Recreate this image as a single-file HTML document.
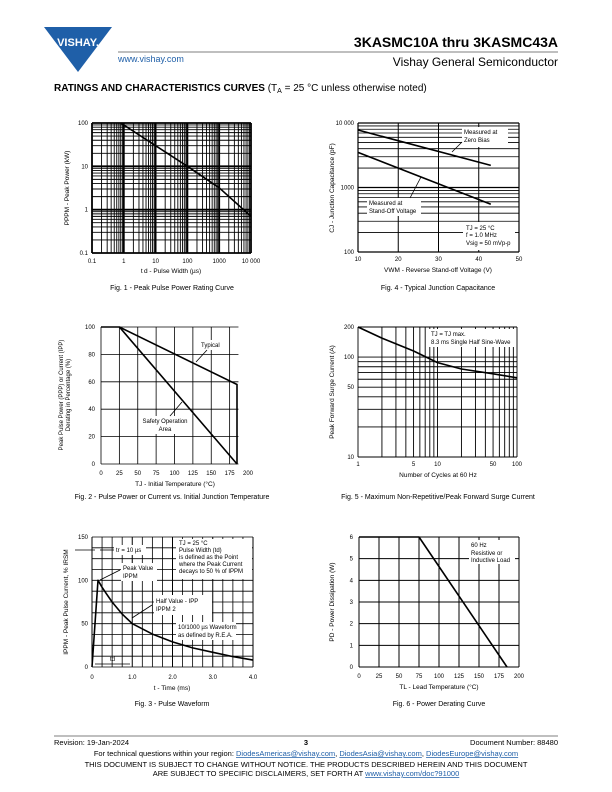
<!DOCTYPE html>
<html><head><meta charset="utf-8"><style>
body{margin:0;background:#fff}
svg{display:block;font-family:"Liberation Sans",Arial,sans-serif}
</style></head><body>
<svg id="pg" width="612" height="792" viewBox="0 0 612 792" xmlns="http://www.w3.org/2000/svg">
<g>
 <polygon points="44,27 112,27 78,72" fill="#1f5fa8"/>
 <text x="78" y="46" font-size="11" font-weight="bold" fill="#fff" text-anchor="middle">VISHAY.</text>
 <text x="118" y="62" font-size="9" fill="#1f5fa8">www.vishay.com</text>
 <text x="558" y="47" font-size="14" font-weight="bold" text-anchor="end">3KASMC10A thru 3KASMC43A</text>
 <text x="558" y="66" font-size="12" text-anchor="end">Vishay General Semiconductor</text>
 <line x1="118" y1="52" x2="558" y2="52" stroke="#000" stroke-width="0.6"/>
 <text x="54" y="91" font-size="10"><tspan font-weight="bold">RATINGS AND CHARACTERISTICS CURVES</tspan> (T<tspan font-size="7" dy="2">A</tspan><tspan dy="-2"> = 25 °C unless otherwise noted)</tspan></text>
</g>
<g id="charts"></g>
<g font-size="7.5">
 <line x1="54" y1="736" x2="558" y2="736" stroke="#000" stroke-width="0.6"/>
 <text x="54" y="745">Revision: 19-Jan-2024</text>
 <text x="306" y="745" text-anchor="middle" font-weight="bold">3</text>
 <text x="558" y="745" text-anchor="end">Document Number: 88480</text>
 <text x="306" y="756" text-anchor="middle">For technical questions within your region: <tspan fill="#1f5fa8" text-decoration="underline">DiodesAmericas@vishay.com</tspan>, <tspan fill="#1f5fa8" text-decoration="underline">DiodesAsia@vishay.com</tspan>, <tspan fill="#1f5fa8" text-decoration="underline">DiodesEurope@vishay.com</tspan></text>
 <text x="306" y="767" text-anchor="middle">THIS DOCUMENT IS SUBJECT TO CHANGE WITHOUT NOTICE. THE PRODUCTS DESCRIBED HEREIN AND THIS DOCUMENT</text>
 <text x="306" y="776" text-anchor="middle">ARE SUBJECT TO SPECIFIC DISCLAIMERS, SET FORTH AT <tspan fill="#1f5fa8" text-decoration="underline">www.vishay.com/doc?91000</tspan></text>
</g>
</svg>
<script>
// ---- data ----
const f1X=[0.8,10,100,1000,10000];
const f1Y=[100,30,10,3.2,0.7];
const f4V=[10,43];
const f4Zero=[7800,2200];
const f4Stand=[3500,550];
const f2Typ=[[0,100],[25,100],[185,58],[185,0]];
const f2SoaT=[25,185];
const f2SoaV=[100,0];
const f3T=[0,0.15,0.25,0.35,0.5,0.75,1,1.5,2,2.5,3,3.5,4];
const f3I=[0,100,92,85,75,61,50,38,29,22,17,12,8];
const f5N=[1,2,5,10,20,50,100];
const f5I=[200,155,115,88,76,68,62];
const f6T=[0,75,185];
const f6P=[6,6,0];
const f1XTicks=["0.1","1","10","100","1000","10 000"];
const f1YTicks=["0.1","1","10","100"];

const NS="http://www.w3.org/2000/svg";
const root=document.getElementById('charts');
function mk(tag,a,p){const e=document.createElementNS(NS,tag);for(const k in a)e.setAttribute(k,a[k]);(p||root).appendChild(e);return e;}
function txt(x,y,s,a,p){const e=mk('text',Object.assign({x:x,y:y,'font-size':6},a||{}),p);e.textContent=s;return e;}
function lin(lo,hi,a,b){return v=>a+(v-lo)/(hi-lo)*(b-a);}
function lg(lo,hi,a,b){return v=>a+(Math.log10(v)-Math.log10(lo))/(Math.log10(hi)-Math.log10(lo))*(b-a);}
function line(g,x1,y1,x2,y2,w){return mk('line',{x1:x1,y1:y1,x2:x2,y2:y2,stroke:'#000','stroke-width':w||0.8},g);}
function path(g,pts,w,name){const e=mk('polyline',{points:pts.map(p=>p[0].toFixed(1)+','+p[1].toFixed(1)).join(' '),fill:'none',stroke:'#000','stroke-width':w||1.6,'stroke-linejoin':'round'},g);

return e;}
function group(name){const g=mk('g',{});

return g;}
function logMinors(lo,hi){const r=[];for(let d=lo;d<hi;d*=10)for(let k=1;k<10;k++){const v=d*k;if(v<=hi)r.push(v);}r.push(hi);return r;}
function rotTitle(g,x,y,s,fs){const t=txt(x,y,s,{'font-size':fs||6.5,'text-anchor':'middle',transform:'rotate(-90 '+x+' '+y+')'},g);return t;}
function caption(g,x,y,s){const t=txt(x,y,s,{'font-size':7,'text-anchor':'middle'},g);

}

// ---- Fig 1 ----
(function(){const g=group('fig1-peak-pulse-power');
const X=lg(0.1,10000,92,251),Y=lg(0.1,100,253,123);
logMinors(0.1,10000).forEach(v=>line(g,X(v),123,X(v),253,Number.isInteger(Math.log10(v))?1.8:0.9));
logMinors(0.1,100).forEach(v=>line(g,92,Y(v),251,Y(v),Number.isInteger(Math.log10(v))?1.8:0.9));
[0.1,1,10,100,1000,10000].forEach((v,i)=>txt(X(v),263,f1XTicks[i],{'text-anchor':'middle'},g));
[0.1,1,10,100].forEach((v,i)=>txt(88,Y(v)+2,f1YTicks[i],{'text-anchor':'end'},g));
path(g,f1X.map((x,i)=>[X(x),Y(f1Y[i])]),1.6,'peak-power-curve');
txt(171,273,'t\u2009d - Pulse Width (µs)',{'font-size':6.5,'text-anchor':'middle'},g);
rotTitle(g,69,188,'PPPM - Peak Power (kW)');
caption(g,172,290,'Fig. 1 - Peak Pulse Power Rating Curve');})();

// ---- Fig 4 ----
(function(){const g=group('fig4-junction-capacitance');
const X=lin(10,50,358,519),Y=lg(100,10000,252,123);
logMinors(100,10000).forEach(v=>line(g,358,Y(v),519,Y(v),Number.isInteger(Math.log10(v))?1.2:0.8));
[10,20,30,40,50].forEach(v=>{line(g,X(v),123,X(v),252,1);txt(X(v),261,String(v),{'text-anchor':'middle'},g);});
line(g,358,123,358,252,1.2);line(g,519,123,519,252,1.2);
[[100,'100'],[1000,'1000'],[10000,'10 000']].forEach(a=>txt(354,Y(a[0])+2,a[1],{'text-anchor':'end'},g));
path(g,f4V.map((v,i)=>[X(v),Y(f4Zero[i])]),1.6,'zero-bias-curve');
path(g,f4V.map((v,i)=>[X(v),Y(f4Stand[i])]),1.6,'standoff-voltage-curve');
mk('rect',{x:462,y:127,width:46,height:20,fill:'#fff'},g);
txt(464,134,'Measured at',{},g);txt(464,142,'Zero Bias',{},g);
line(g,462,142,452,152,0.8);
mk('rect',{x:367,y:198,width:54,height:18,fill:'#fff'},g);
txt(369,205,'Measured at',{},g);txt(369,213,'Stand-Off Voltage',{},g);
line(g,410,198,421,177,0.8);
mk('rect',{x:463,y:222,width:52,height:28,fill:'#fff'},g);
txt(466,230,'TJ = 25 °C',{},g);txt(466,237,'f = 1.0 MHz',{},g);txt(466,245,'Vsig = 50 mVp-p',{},g);
txt(438,272,'VWM - Reverse Stand-off Voltage (V)',{'font-size':6.5,'text-anchor':'middle'},g);
rotTitle(g,334,188,'CJ - Junction Capacitance (pF)');
caption(g,438,290,'Fig. 4 - Typical Junction Capacitance');})();

// ---- Fig 2 ----
(function(){const g=group('fig2-derating');
const X=lin(0,200,101,248),Y=lin(0,100,464,327);
for(let v=0;v<=200;v+=25){if(v>0&&v<200)line(g,X(v),327,X(v),464,0.8);txt(X(v),475,String(v),{'text-anchor':'middle'},g);}
for(let v=0;v<=100;v+=20){line(g,X(0),Y(v),X(187),Y(v),0.8);txt(95,Y(v)+2,String(v),{'text-anchor':'end'},g);}
line(g,X(0),327,X(0),464,0.8);
path(g,f2Typ.map(p=>[X(p[0]),Y(p[1])]),1.6,'typical-curve');
path(g,f2SoaT.map((t,i)=>[X(t),Y(f2SoaV[i])]),1.6,'safe-operating-area-curve');
mk('rect',{x:198,y:340,width:26,height:10,fill:'#fff'},g);
txt(201,347,'Typical',{},g);line(g,207,350,196,362,0.8);
mk('rect',{x:140,y:416,width:50,height:18,fill:'#fff'},g);
txt(165,423,'Safety Operation',{'text-anchor':'middle'},g);txt(165,431,'Area',{'text-anchor':'middle'},g);
line(g,170,416,182,402,0.8);
txt(175,486,'TJ - Initial Temperature (°C)',{'font-size':6.5,'text-anchor':'middle'},g);
rotTitle(g,63,395,'Peak Pulse Power (PPP) or Current (IPP)',6);
rotTitle(g,70,395,'Derating in Percentage (%)',6);
caption(g,172,499,'Fig. 2 - Pulse Power or Current vs. Initial Junction Temperature');})();

// ---- Fig 5 ----
(function(){const g=group('fig5-surge-current');
const X=lg(1,100,358,517),Y=lg(10,200,457,327);
logMinors(1,100).forEach(v=>line(g,X(v),327,X(v),457,0.9));
[10,20,30,40,50,60,70,80,90,100,200].forEach(v=>line(g,358,Y(v),517,Y(v),0.9));
[1,5,10,50,100].forEach(v=>txt(X(v),466,String(v),{'text-anchor':'middle'},g));
[10,50,100,200].forEach(v=>txt(354,Y(v)+2,String(v),{'text-anchor':'end'},g));
path(g,f5N.map((n,i)=>[X(n),Y(f5I[i])]),1.6,'surge-current-curve');
mk('rect',{x:429,y:329,width:86,height:18,fill:'#fff'},g);
txt(431,336,'TJ = TJ max.',{},g);txt(431,344,'8.3 ms Single Half Sine-Wave',{},g);
txt(438,477,'Number of Cycles at 60 Hz',{'font-size':6.5,'text-anchor':'middle'},g);
rotTitle(g,334,392,'Peak Forward Surge Current (A)');
caption(g,438,499,'Fig. 5 - Maximum Non-Repetitive/Peak Forward Surge Current');})();

// ---- Fig 3 ----
(function(){const g=group('fig3-pulse-waveform');
const X=lin(0,4,92,253),Y=lin(0,150,667,537);
for(let v=0;v<=4;v+=0.25)line(g,X(v),537,X(v),667,v%1===0?1:0.8);
for(let v=0;v<=150;v+=12.5)line(g,92,Y(v),253,Y(v),0.8);
['0','1.0','2.0','3.0','4.0'].forEach((s,i)=>txt(X(i),679,s,{'text-anchor':'middle'},g));
[0,50,100,150].forEach(v=>txt(88,Y(v)+2,String(v),{'text-anchor':'end'},g));
path(g,f3T.map((t,i)=>[X(t),Y(f3I[i])]),1.6,'pulse-waveform-curve');
mk('rect',{x:176,y:539,width:76,height:40,fill:'#fff'},g);
['TJ = 25 °C','Pulse Width (td)','is defined as the Point','where the Peak Current','decays to 50 % of IPPM'].forEach((s,i)=>txt(179,545+i*7,s,{},g));
mk('rect',{x:114,y:545,width:32,height:10,fill:'#fff'},g);txt(116,552,'tr = 10 µs',{},g);
line(g,75,550,95,550,0.8);line(g,100,550,114,550,0.8);
mk('rect',{x:121,y:563,width:36,height:18,fill:'#fff'},g);txt(123,570,'Peak Value',{},g);txt(123,578,'IPPM',{},g);
line(g,120,570,100,580,0.8);
mk('rect',{x:154,y:595,width:58,height:20,fill:'#fff'},g);txt(156,603,'Half Value -  IPP',{},g);txt(156,611,'IPPM           2',{},g);
line(g,152,605,132,618,0.8);
mk('rect',{x:176,y:622,width:60,height:18,fill:'#fff'},g);txt(178,629,'10/1000 µs Waveform',{},g);txt(178,637,'as defined by R.E.A.',{},g);
line(g,95,664,130,664,0.8);txt(110,661,'td',{},g);
txt(172,690,'t - Time (ms)',{'font-size':6.5,'text-anchor':'middle'},g);
rotTitle(g,68,602,'IPPM - Peak Pulse Current, % IRSM');
caption(g,172,706,'Fig. 3 - Pulse Waveform');})();

// ---- Fig 6 ----
(function(){const g=group('fig6-power-derating');
const X=lin(0,200,359,519),Y=lin(0,6,667,537);
for(let v=0;v<=200;v+=25){line(g,X(v),537,X(v),667,1);txt(X(v),678,String(v),{'text-anchor':'middle'},g);}
for(let v=0;v<=6;v++){line(g,359,Y(v),519,Y(v),1);txt(353,Y(v)+2,String(v),{'text-anchor':'end'},g);}
path(g,f6T.map((t,i)=>[X(t),Y(f6P[i])]),1.6,'power-derating-curve');
mk('rect',{x:469,y:540,width:46,height:24,fill:'#fff'},g);
txt(471,547,'60 Hz',{},g);txt(471,555,'Resistive or',{},g);txt(471,562,'Inductive Load',{},g);
txt(439,689,'TL - Lead Temperature (°C)',{'font-size':6.5,'text-anchor':'middle'},g);
rotTitle(g,334,602,'PD - Power Dissipation (W)');
caption(g,439,706,'Fig. 6 - Power Derating Curve');})();
</script>
</body></html>
